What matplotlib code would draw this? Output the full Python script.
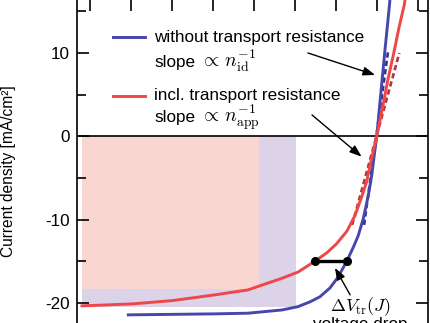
import numpy as np
import matplotlib
matplotlib.use("Agg")
import matplotlib.pyplot as plt
from matplotlib.patches import ArrowStyle

plt.rcParams['font.family'] = ['Liberation Sans', 'DejaVu Sans']
plt.rcParams['mathtext.fontset'] = 'cm'
plt.rcParams['axes.unicode_minus'] = False

# current-voltage curves (V in volts, J in mA/cm^2)
v_red = [0.000, 0.124, 0.222, 0.324, 0.405, 0.488, 0.527, 0.568, 0.597, 0.621,
         0.646, 0.666, 0.682, 0.694, 0.704, 0.719, 0.732, 0.746, 0.761, 0.773, 0.786, 0.790]
j_red = [-20.36, -20.12, -19.72, -19.04, -18.44, -17.04, -16.3, -15.0, -14.0, -12.9,
         -11.4, -9.5, -7.3, -5.5, -3.2, 0.0, 3.16, 6.76, 10.12, 13.0, 15.76, 17.0]

v_blue = [0.113, 0.324, 0.405, 0.488, 0.527, 0.556, 0.580, 0.605, 0.625, 0.646,
          0.662, 0.674, 0.686, 0.698, 0.707, 0.712, 0.719, 0.725, 0.732, 0.739, 0.750, 0.752]
j_blue = [-21.44, -21.32, -21.24, -20.85, -20.45, -19.88, -19.28, -18.2, -16.88, -14.96,
          -13.3, -11.9, -9.9, -7.2, -4.6, -2.6, 0.0, 3.16, 6.76, 10.36, 15.76, 17.0]

# slope lines near open circuit
v_slope_blue = [0.688, 0.747]
j_slope_blue = [-10.64, 10.36]
v_slope_red = [0.659, 0.774]
j_slope_red = [-10.64, 10.0]

# maximum power rectangles
v_mpp_blue, j_mpp_blue = 0.522, -20.48
v_mpp_red, j_mpp_red = 0.432, -18.32

# voltage drop at J = -15
j_drop = -15.0
v_drop = [0.568, 0.646]

red = '#ee4747'
blue = '#4646ac'

fig = plt.figure(figsize=(4.3, 3.23), dpi=100)
ax = fig.add_axes([0.1802, -0.1053, 0.8151, 1.1084])

ax.fill_between([0, v_mpp_blue], j_mpp_blue, 0, color='#dcd3e9', lw=0, zorder=0)
ax.fill_between([0, v_mpp_red], j_mpp_red, 0, color='#fad6d3', lw=0, zorder=0.5)
ax.axhline(0, color='k', lw=1.2, zorder=1)

ax.plot(v_slope_blue, j_slope_blue, color='#2f2f98', lw=1.9, ls=(0, (2.0, 1.2)), zorder=2)
ax.plot(v_slope_red, j_slope_red, color='#b8323a', lw=1.9, ls=(0, (2.0, 1.2)), zorder=2)
ax.plot(v_blue, j_blue, color=blue, lw=2.1, zorder=3)
ax.plot(v_red, j_red, color=red, lw=2.1, zorder=3)

ax.plot(v_drop, [j_drop, j_drop], color='k', lw=2.4, marker='o', ms=5.5, zorder=4)

# legend-like labels
ax.plot([0.0756, 0.1537], [11.9, 11.9], color=blue, lw=2.1)
ax.plot([0.0756, 0.1537], [4.84, 4.84], color=red, lw=2.1)
fs = 12.3
ax.text(0.176, 11.35, 'without transport resistance', fontsize=fs, va='baseline')
ax.text(0.176, 4.36, 'incl. transport resistance', fontsize=fs, va='baseline')

t1 = ax.text(0.176, 8.3, 'slope', fontsize=fs, va='baseline')
ax.annotate(r'$\propto\, n_{\rm id}^{-1}$', xy=(1, 8.3), xycoords=(t1, 'data'),
            xytext=(3.5, 0), textcoords='offset points', fontsize=14, va='baseline')
t2 = ax.text(0.176, 1.75, 'slope', fontsize=fs, va='baseline')
ax.annotate(r'$\propto\, n_{\rm app}^{-1}$', xy=(1, 1.75), xycoords=(t2, 'data'),
            xytext=(3.5, 0), textcoords='offset points', fontsize=14, va='baseline')

head = ArrowStyle('-|>', head_length=0.6, head_width=0.22)
arrow = dict(arrowstyle=head, color='k', lw=1.0, mutation_scale=12, shrinkA=0, shrinkB=0)
ax.annotate('', xy=(0.715, 7.36), xytext=(0.551, 10.0), arrowprops=arrow, zorder=5)
ax.annotate('', xy=(0.682, -2.45), xytext=(0.561, 2.56), arrowprops=arrow, zorder=5)
ax.annotate('', xy=(0.617, -15.8), xytext=(0.654, -19.04), arrowprops=arrow, zorder=5)

ax.text(0.680, -21.05, r'$\Delta V_{\rm tr}(J)$', fontsize=13, ha='center', va='baseline')
ax.text(0.678, -23.15, 'voltage drop', fontsize=fs, ha='center', va='baseline')

ax.set_xlim(-0.011, 0.8439)
ax.set_ylim(-26.5, 16.48)
ax.set_xticks(np.arange(0.02, 0.84, 0.1))
ax.set_xticklabels([])
ax.set_yticks([-20, -10, 0, 10])
ax.set_yticks([-25, -15, -5, 5, 15], minor=True)
ax.tick_params(which='both', direction='in', top=True, right=True, width=1.2,
               labelsize=fs, pad=5.4)
ax.tick_params(which='major', length=8.5)
ax.tick_params(which='minor', length=6.5)
for s in ax.spines.values():
    s.set_linewidth(1.2)

ax.set_ylabel('Current density [mA/cm²]', fontsize=11.2)
ax.yaxis.set_label_coords(-0.175, 0.52)

fig.savefig('out.png', dpi=100)
